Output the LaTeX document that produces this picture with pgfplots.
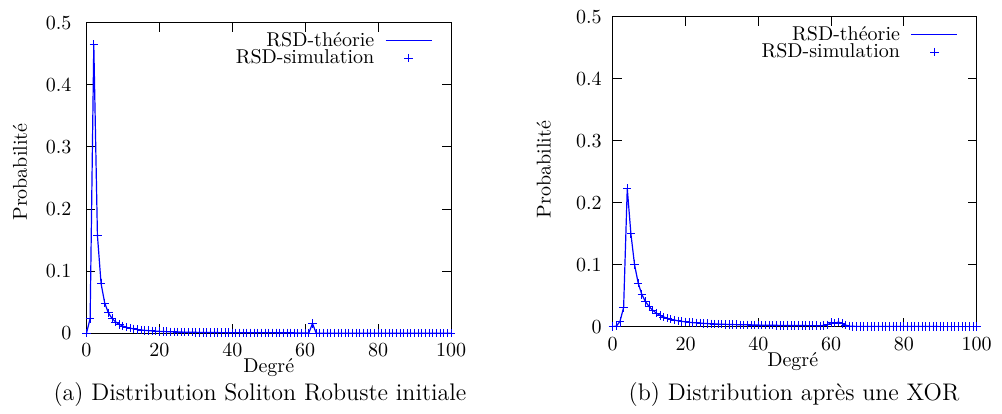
\documentclass[border=0pt]{standalone}
\usepackage{pgfplots}
\usepackage{pgfplotstable}
\pgfplotsset{compat=1.18}

\pgfplotstableread{
x y
0 0
1 0.0238
2 0.4652
3 0.1575
4 0.0800
5 0.0487
6 0.0330
7 0.0239
8 0.0182
9 0.01435
10 0.01164
11 0.00966
12 0.00816
13 0.00700
14 0.00608
15 0.00534
16 0.00473
17 0.00423
18 0.00381
19 0.00345
20 0.00314
21 0.00288
22 0.00265
23 0.00245
24 0.00227
25 0.00211
26 0.00197
27 0.00185
28 0.00174
29 0.00163
30 0.00154
31 0.00146
32 0.00138
33 0.00131
34 0.00125
35 0.00119
36 0.00113
37 0.00108
38 0.00104
39 0.00099
40 0.00095
41 0.00092
42 0.00088
43 0.00085
44 0.00082
45 0.00079
46 0.00076
47 0.00074
48 0.00071
49 0.00069
50 0.00067
51 0.00065
52 0.00063
53 0.00061
54 0.00059
55 0.00058
56 0.00056
57 0.00054
58 0.00053
59 0.00052
60 0.00050
61 0.00049
62 0.0160
63 0.00023
64 0.00023
65 0.00022
66 0.00021
67 0.00021
68 0.00020
69 0.00020
70 0.00019
71 0.00018
72 0.00018
73 0.00017
74 0.00017
75 0.00016
76 0.00016
77 0.00016
78 0.00015
79 0.00015
80 0.00014
81 0.00014
82 0.00014
83 0.00013
84 0.00013
85 0.00013
86 0.00013
87 0.00012
88 0.00012
89 0.00012
90 0.00011
91 0.00011
92 0.00011
93 0.00011
94 0.00010
95 0.00010
96 0.00010
97 0.00010
98 0.00010
99 0.00009
100 0.00009
}\dataA

\pgfplotstableread{
x y
0 0
1 0.001
2 0.0085
3 0.031
4 0.223
5 0.150
6 0.100
7 0.0705
8 0.0520
9 0.0405
10 0.0325
11 0.0265
12 0.0218
13 0.0183
14 0.0157
15 0.0136
16 0.0120
17 0.0106
18 0.0095
19 0.0086
20 0.0078
21 0.0071
22 0.0066
23 0.0061
24 0.0057
25 0.0053
26 0.0050
27 0.0047
28 0.0044
29 0.0042
30 0.0040
31 0.0038
32 0.0036
33 0.0034
34 0.0033
35 0.0031
36 0.0030
37 0.0029
38 0.0028
39 0.0027
40 0.0026
41 0.0025
42 0.0024
43 0.0023
44 0.0023
45 0.0022
46 0.0021
47 0.0021
48 0.0020
49 0.0020
50 0.0019
51 0.0019
52 0.0018
53 0.0018
54 0.0017
55 0.0017
56 0.0017
57 0.0016
58 0.0020
59 0.0030
60 0.0065
61 0.0055
62 0.0075
63 0.0050
64 0.0025
65 0.0010
66 0.0006
67 0.0005
68 0.0005
69 0.0004
70 0.0004
71 0.0004
72 0.0004
73 0.0003
74 0.0003
75 0.0003
76 0.0003
77 0.0003
78 0.0003
79 0.0003
80 0.0002
81 0.0002
82 0.0002
83 0.0002
84 0.0002
85 0.0002
86 0.0002
87 0.0002
88 0.0002
89 0.0002
90 0.0001
91 0.0001
92 0.0001
93 0.0001
94 0.0001
95 0.0001
96 0.0001
97 0.0001
98 0.0001
99 0.0001
100 0.0001
}\dataB

\pgfplotsset{
  rsdstyle/.style={
    scale only axis,
    xmin=0, xmax=100, ymin=0, ymax=0.5,
    xtick={0,20,40,60,80,100},
    ytick={0,0.1,0.2,0.3,0.4,0.5},
    yticklabels={0,0.1,0.2,0.3,0.4,0.5},
    tick align=inside,
    tick pos=both,
    major tick length=4.5pt,
    tick style={black, line width=0.5pt},
    axis line style={black, line width=0.5pt},
    xticklabel style={yshift=-1.7pt},
    xlabel={Degré},
    ylabel={Probabilité},
    xlabel style={at={(axis description cs:0.5,0)}, anchor=north, yshift=-9.2pt},
    legend plot pos=right,
    legend cell align=right,
    legend style={draw=none, fill=none, at={(axis description cs:1,1)}, anchor=north east,
      row sep=0.2pt, column sep=5.3pt, inner sep=0pt, nodes={inner sep=0pt}, font=\normalsize,
      xshift=-9.15pt, yshift=-4.5pt},
  },
  theory/.style={color=blue, line width=0.6pt, mark=none,
    legend image code/.code={\draw[color=blue, line width=0.7pt] (0pt,0pt) -- (23pt,0pt);}},
  simu/.style={color=blue, line width=0.45pt, only marks, mark=+, mark size=2.1pt,
    legend image code/.code={\draw[color=blue, line width=0.45pt] plot[mark=+, mark size=2.1pt, only marks] coordinates {(11.5pt,0pt)};}},
}

\begin{document}
\begin{tikzpicture}
\path (0pt,0pt) rectangle (501pt,204pt);

\begin{axis}[rsdstyle,
  at={(43.25pt,37.35pt)}, anchor=south west,
  width=182.25pt, height=155.3pt,
  yticklabel style={xshift=-4pt},
  ylabel style={at={(axis description cs:-0.1824,0.519)}, anchor=center},
]
\addplot[theory] table[x=x, y=y] {\dataA};
\addlegendentry{RSD-théorie}
\addplot[simu] table[x=x, y=y] {\dataA};
\addlegendentry{RSD-simulation}
\end{axis}

\begin{axis}[rsdstyle,
  at={(306.35pt,40.65pt)}, anchor=south west,
  width=182pt, height=155pt,
  yticklabel style={xshift=-2pt},
  ylabel style={at={(axis description cs:-0.1896,0.507)}, anchor=center},
  xlabel style={xshift=-1pt},
]
\addplot[theory] table[x=x, y=y] {\dataB};
\addlegendentry{RSD-théorie}
\addplot[simu] table[x=x, y=y] {\dataB};
\addlegendentry{RSD-simulation}
\end{axis}

\node[anchor=base] at (130pt,3.5pt) {\fontsize{12}{14}\selectfont (a) Distribution Soliton Robuste initiale};
\node[anchor=base] at (397pt,3.5pt) {\fontsize{12}{14}\selectfont (b) Distribution après une XOR};
\end{tikzpicture}
\end{document}
